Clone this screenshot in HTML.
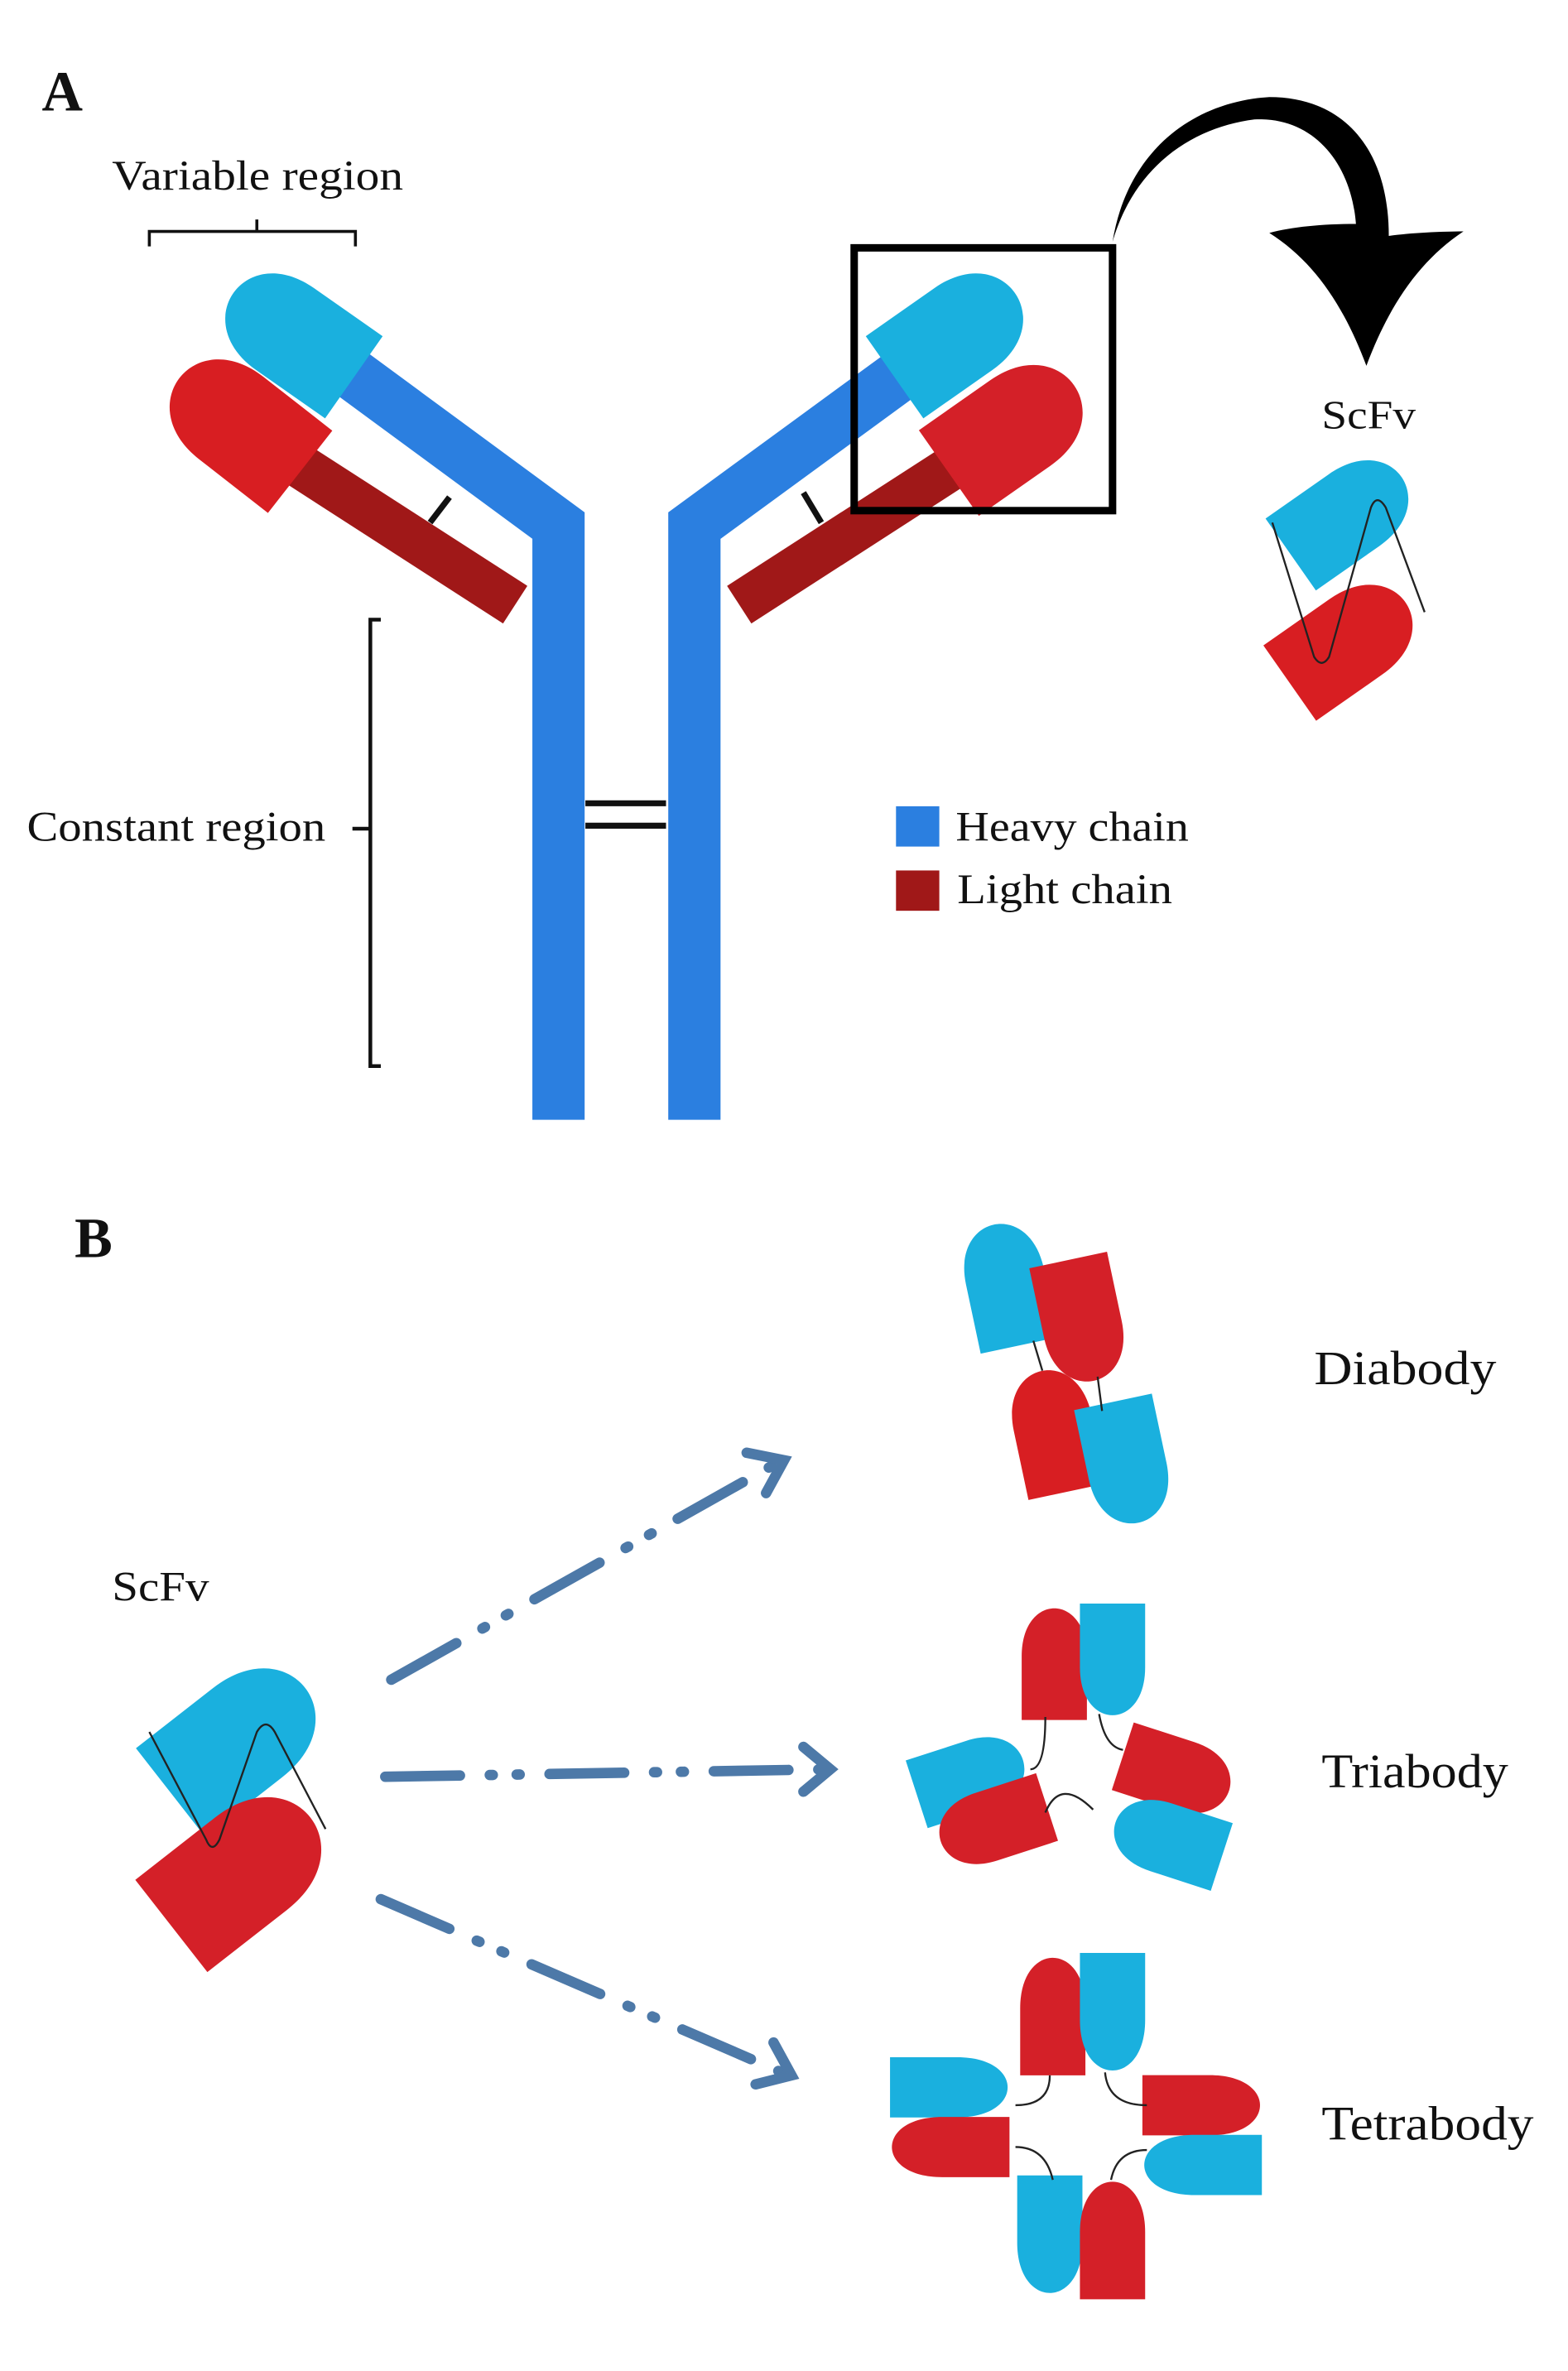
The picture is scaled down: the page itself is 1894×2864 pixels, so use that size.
<!DOCTYPE html>
<html><head><meta charset="utf-8"><style>
html,body{margin:0;padding:0;background:#fff;}
svg{display:block;}
text{font-family:"Liberation Serif",serif;fill:#111;}
</style></head><body>
<svg width="1894" height="2864" viewBox="0 0 1050 1588" preserveAspectRatio="none" xmlns="http://www.w3.org/2000/svg">
<defs>
<path id="b" d="M-28 40 L28 40 L28 -5 C28 -50 -28 -50 -28 -5 Z"/>
</defs>
<!-- Panel A -->
<text x="28" y="74" font-size="38" font-weight="bold">A</text>
<text x="75" y="127" font-size="28" textLength="195" lengthAdjust="spacingAndGlyphs">Variable region</text>
<path d="M100 165 L100 155 L238 155 L238 165 M172 155 L172 147" fill="none" stroke="#111" stroke-width="2"/>

<!-- light chains -->
<line x1="190" y1="305" x2="345" y2="405" stroke="#a01818" stroke-width="30"/>
<line x1="650" y1="305" x2="495" y2="405" stroke="#a01818" stroke-width="30"/>
<!-- heavy chains -->
<polyline points="215,235 374,352 374,750" fill="none" stroke="#2b7fe0" stroke-width="35" stroke-linejoin="miter"/>
<polyline points="625,235 465,352 465,750" fill="none" stroke="#2b7fe0" stroke-width="35" stroke-linejoin="miter"/>
<!-- disulfides -->
<line x1="288" y1="350" x2="301" y2="333" stroke="#111" stroke-width="4"/>
<line x1="538" y1="330" x2="550" y2="350" stroke="#111" stroke-width="4"/>
<line x1="392" y1="538" x2="446" y2="538" stroke="#111" stroke-width="4"/>
<line x1="392" y1="553" x2="446" y2="553" stroke="#111" stroke-width="4"/>
<!-- domains left -->
<use href="#b" transform="translate(196,224) rotate(-55) scale(1.2,1.25)" fill="#1ab0de"/>
<use href="#b" transform="translate(160,284) rotate(-52) scale(1.25,1.3)" fill="#d81e22"/>
<!-- domains right -->
<use href="#b" transform="translate(640,224) rotate(55) scale(1.2,1.25)" fill="#1ab0de"/>
<use href="#b" transform="translate(678,287) rotate(55) scale(1.25,1.3)" fill="#d42028"/>
<!-- box -->
<rect x="572" y="166" width="173" height="176" fill="none" stroke="#000" stroke-width="5"/>
<!-- curved arrow -->
<path d="M745 162 C760 110 800 85 840 80 C880 78 905 110 908 150 C885 150 865 152 850 156 C880 175 900 205 915 245 C930 205 950 175 980 155 C965 155 945 156 930 158 C930 100 900 65 850 65 C800 68 755 100 745 162 Z" fill="#000"/>
<text x="885" y="287" font-size="27" textLength="63" lengthAdjust="spacingAndGlyphs">ScFv</text>
<!-- scFv A -->
<use href="#b" transform="translate(902,345) rotate(55) scale(1.05,1.15)" fill="#1ab0de"/>
<use href="#b" transform="translate(903,430) rotate(55) scale(1.1,1.2)" fill="#d81e22"/>
<path d="M852 350 L880 440 Q885 448 890 440 L918 340 Q922 330 928 340 L954 410" fill="none" stroke="#222" stroke-width="1.3"/>
<!-- constant bracket -->
<path d="M255 415 L248 415 L248 714 L255 714 M248 555 L236 555" fill="none" stroke="#111" stroke-width="2.5"/>
<text x="18" y="563" font-size="28" textLength="200" lengthAdjust="spacingAndGlyphs">Constant region</text>
<!-- legend -->
<rect x="600" y="540" width="29" height="27" fill="#2b7fe0"/>
<text x="640" y="563" font-size="28" textLength="156" lengthAdjust="spacingAndGlyphs">Heavy chain</text>
<rect x="600" y="583" width="29" height="27" fill="#a01818"/>
<text x="641" y="605" font-size="28" textLength="144" lengthAdjust="spacingAndGlyphs">Light chain</text>

<!-- Panel B -->
<text x="50" y="842" font-size="38" font-weight="bold">B</text>
<!-- diabody -->
<use href="#b" transform="translate(674,860) rotate(-12) scale(0.95,1.05)" fill="#1ab0de"/>
<use href="#b" transform="translate(724,885) rotate(168) scale(0.95,1.05)" fill="#d42028"/>
<use href="#b" transform="translate(706,958) rotate(-12) scale(0.95,1.05)" fill="#d81e22"/>
<use href="#b" transform="translate(754,980) rotate(168) scale(0.95,1.05)" fill="#1ab0de"/>
<line x1="692" y1="898" x2="698" y2="918" stroke="#222" stroke-width="1.3"/>
<line x1="735" y1="922" x2="738" y2="945" stroke="#222" stroke-width="1.3"/>
<text x="880" y="927" font-size="32" textLength="122" lengthAdjust="spacingAndGlyphs">Diabody</text>

<!-- ScFv B -->
<text x="75" y="1072" font-size="28" textLength="65" lengthAdjust="spacingAndGlyphs">ScFv</text>
<use href="#b" transform="translate(160,1165) rotate(52) scale(1.35,1.45)" fill="#1ab0de"/>
<use href="#b" transform="translate(162,1253) rotate(52) scale(1.4,1.5)" fill="#d42028"/>
<path d="M100 1160 L138 1232 Q142 1242 147 1232 L172 1160 Q178 1150 184 1160 L218 1225" fill="none" stroke="#222" stroke-width="1.3"/>

<!-- arrows -->
<g stroke="#4d79a8" stroke-width="7" fill="none" stroke-linecap="round">
<path d="M262 1125 L520 980" stroke-dasharray="50 20 2 16 2 20"/>
<path d="M500 973 L525 978 L513 1000"/>
<path d="M258 1190 L555 1185" stroke-dasharray="50 20 2 16 2 20"/>
<path d="M538 1170 L556 1185 L538 1200"/>
<path d="M255 1272 L528 1390" stroke-dasharray="50 20 2 16 2 20"/>
<path d="M518 1368 L530 1390 L506 1396"/>
</g>

<!-- triabody -->
<use href="#b" transform="translate(706,1114) rotate(0) scale(0.78,0.95)" fill="#d42028"/>
<use href="#b" transform="translate(745,1112) rotate(180) scale(0.78,0.95)" fill="#1ab0de"/>
<use href="#b" transform="translate(650,1190) rotate(72) scale(0.85,0.95)" fill="#1ab0de"/>
<use href="#b" transform="translate(665,1222) rotate(-108) scale(0.85,0.95)" fill="#d42028"/>
<use href="#b" transform="translate(788,1188) rotate(108) scale(0.85,0.95)" fill="#d42028"/>
<use href="#b" transform="translate(782,1232) rotate(-72) scale(0.85,0.95)" fill="#1ab0de"/>
<path d="M700 1150 Q700 1185 690 1185 M736 1148 Q740 1170 752 1172 M700 1214 Q710 1190 732 1212" fill="none" stroke="#222" stroke-width="1.3"/>
<text x="885" y="1197" font-size="32" textLength="125" lengthAdjust="spacingAndGlyphs">Triabody</text>

<!-- tetrabody -->
<use href="#b" transform="translate(705,1350) rotate(0) scale(0.78,1)" fill="#d42028"/>
<use href="#b" transform="translate(745,1348) rotate(180) scale(0.78,1)" fill="#1ab0de"/>
<use href="#b" transform="translate(636,1398) rotate(90) scale(0.72,1)" fill="#1ab0de"/>
<use href="#b" transform="translate(636,1438) rotate(-90) scale(0.72,1)" fill="#d42028"/>
<use href="#b" transform="translate(805,1410) rotate(90) scale(0.72,1)" fill="#d42028"/>
<use href="#b" transform="translate(805,1450) rotate(-90) scale(0.72,1)" fill="#1ab0de"/>
<use href="#b" transform="translate(703,1497) rotate(180) scale(0.78,1)" fill="#1ab0de"/>
<use href="#b" transform="translate(745,1500) rotate(0) scale(0.78,1)" fill="#d42028"/>
<path d="M703 1390 Q703 1410 680 1410 M740 1388 Q742 1410 768 1410 M680 1438 Q700 1438 705 1460 M768 1440 Q748 1440 744 1460" fill="none" stroke="#222" stroke-width="1.3"/>
<text x="885" y="1433" font-size="32" textLength="142" lengthAdjust="spacingAndGlyphs">Tetrabody</text>
</svg>
</body></html>
